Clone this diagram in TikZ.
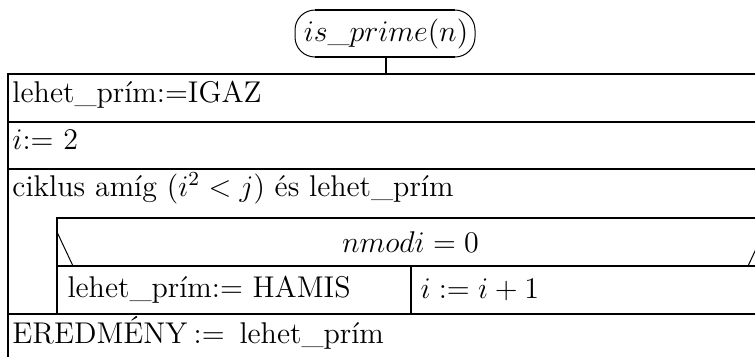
\documentclass[tikz,border=0pt]{standalone}
\begin{document}
\begin{tikzpicture}[x=0.4pt,y=-0.4pt,
  font=\fontsize{12}{14}\selectfont,
  thickline/.style={line width=0.8pt},
  thinline/.style={line width=0.4pt},
  txt/.style={anchor=base west, inner sep=0pt}]
\useasboundingbox (0,0) rectangle (755,356);
\begin{scope}
\clip (0,0) rectangle (755,356);
% terminal
\node[inner sep=0pt] (term) at (386,34) {$is\_prime(n)$};
\draw[thinline, rounded corners=8pt] (295,10) rectangle (475,57);
\draw[thickline] (315,10) -- (455,10);
\draw[thickline] (315,57) -- (455,57);
\coordinate (tbot) at (386,57);
\coordinate (btop) at (386,74);
\draw[thickline] (tbot) -- (btop);
% outer structure
\draw[thickline] (764,74) -- (8,74) -- (8,370) -- (764,370) -- cycle;
\draw[thickline] (8,122) -- (764,122);
\draw[thickline] (8,169) -- (764,169);
\draw[thickline] (8,314) -- (764,314);
% inner branch
\draw[thickline] (57,314) -- (57,218) -- (764,218);
\draw[thickline] (57,266) -- (764,266);
\draw[thickline] (411,266) -- (411,314);
\draw[thinline] (57,232) -- (73,266);
\draw[thinline] (764,232) -- (748,266);
% texts
\node[txt] (t1) at (12,102) {lehet\_prím:=IGAZ};
\node[txt] (t2) at (12,149) {$i$:= 2};
\node[txt] (t3) at (12,196) {ciklus amíg ($i^2<j$) és lehet\_prím};
\node[anchor=base, inner sep=0pt] (c) at (410.5,252) {$nmodi=0$};
\node[txt] (b1) at (67,297) {lehet\_prím:= HAMIS};
\node[txt] (b2) at (420,298) {$i:=i+1$};
\node[txt] (t4) at (12,343) {EREDMÉNY\hspace{2.5pt}:=\hspace{2pt} lehet\_prím};
\end{scope}
\end{tikzpicture}
\end{document}
